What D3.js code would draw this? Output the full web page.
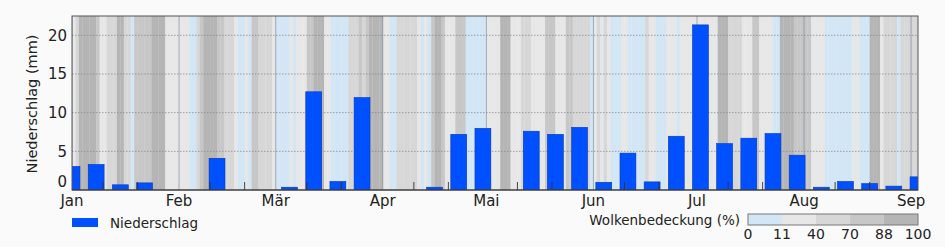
<!DOCTYPE html>
<html>
<head>
<meta charset="utf-8">
<script src="https://cdn.jsdelivr.net/npm/d3@7"></script>
<style>
  body { margin: 0; background: #fafafa; }
  svg { display: block; font-family: "DejaVu Sans", sans-serif; }
</style>
</head>
<body>
<div id="chart"></div>
<script>
// weekly precipitation (mm), bar centred on each date
const weekDates = ["2023-01-01","2023-01-08","2023-01-15","2023-01-22","2023-01-29",
  "2023-02-05","2023-02-12","2023-02-19","2023-02-26",
  "2023-03-05","2023-03-12","2023-03-19","2023-03-26",
  "2023-04-02","2023-04-09","2023-04-16","2023-04-23","2023-04-30",
  "2023-05-07","2023-05-14","2023-05-21","2023-05-28",
  "2023-06-04","2023-06-11","2023-06-18","2023-06-25",
  "2023-07-02","2023-07-09","2023-07-16","2023-07-23","2023-07-30",
  "2023-08-06","2023-08-13","2023-08-20","2023-08-27","2023-09-03"];
const precip = [3.05, 3.3, 0.67, 0.92, 0, 0, 4.1, 0, 0, 0.36, 12.7, 1.1, 11.95, 0, 0, 0.36,
  7.2, 7.97, 0, 7.6, 7.2, 8.1, 1.0, 4.77, 1.05, 6.95, 21.35, 6.0, 6.7, 7.3, 4.5, 0.36,
  1.1, 0.83, 0.5, 1.7];

// daily cloud cover (%) from 1 Jan
const cloud = [
  25,55,95,95,95,95,95,80,25,25,
  55,55,55,95,95,55,55,5,80,80,
  80,80,80,95,95,95,95,25,25,25,
  25,25,25,25,5,5,55,80,95,95,
  95,95,80,80,55,55,55,25,5,5,
  25,5,80,80,55,55,55,55,25,5,
  5,5,5,25,5,25,25,25,80,80,
  95,95,95,25,25,5,5,5,5,5,
  55,55,55,80,55,80,95,95,95,95,
  25,25,5,5,55,55,55,55,55,55,
  25,5,25,5,80,95,95,80,25,25,
  25,80,80,80,5,5,5,5,5,5,
  25,25,25,25,95,95,95,25,25,25,
  55,55,55,25,25,25,25,80,80,80,
  25,25,25,80,80,55,55,55,55,55,
  5,25,55,25,55,25,5,5,5,25,
  25,5,5,5,5,5,55,25,25,5,
  5,5,25,25,25,5,25,25,25,25,
  25,25,25,25,25,25,25,95,95,95,
  55,55,55,55,25,25,25,80,80,25,
  25,25,25,5,5,95,95,95,95,80,
  80,80,80,80,25,25,25,25,5,5,
  5,5,5,5,5,5,25,25,5,5,
  5,95,95,95,25,55,55,55,55,5,
  55,55,55,55,55];

const monthLabels = ["Jan","Feb","Mär","Apr","Mai","Jun","Jul","Aug","Sep"];
const yTicks = [0, 5, 10, 15, 20];
const cloudBreaks = [0, 11, 40, 70, 88, 100];
const cloudColors = ["#d2e6f5", "#e7e7e7", "#d7d7d7", "#c7c7c7", "#b5b5b5"];

const w = 945, h = 247;
const pLeft = 72, pRight = 918, pTop = 16, pBottom = 190;

const parse = d3.timeParse("%Y-%m-%d");
const start = parse("2023-01-01");
const end = parse("2023-09-03");

const x = d3.scaleTime().domain([start, end]).range([pLeft, pRight]);
const y = d3.scaleLinear().domain([0, 22.5]).range([pBottom, pTop]);
const cloudColor = d3.scaleThreshold().domain(cloudBreaks.slice(1, 5)).range(cloudColors);

const svg = d3.select("#chart").append("svg").attr("width", w).attr("height", h);

svg.append("defs").append("clipPath").attr("id", "clip")
  .append("rect").attr("x", pLeft).attr("y", pTop)
  .attr("width", pRight - pLeft).attr("height", pBottom - pTop);

const plot = svg.append("g").attr("clip-path", "url(#clip)");

// cloud cover stripes
plot.selectAll("rect.cloud")
  .data(cloud)
  .enter()
  .append("rect")
  .attr("class", "cloud")
  .attr("x", (d, i) => x(d3.timeDay.offset(start, i)))
  .attr("width", (d, i) => x(d3.timeDay.offset(start, i + 1)) - x(d3.timeDay.offset(start, i)) + 0.3)
  .attr("y", pTop)
  .attr("height", pBottom - pTop)
  .attr("fill", d => cloudColor(d));

// horizontal grid
plot.selectAll("line.grid")
  .data(yTicks.slice(1))
  .enter()
  .append("line")
  .attr("x1", pLeft).attr("x2", pRight)
  .attr("y1", d => y(d)).attr("y2", d => y(d))
  .attr("stroke", "#8a8a8a")
  .attr("stroke-width", 0.8)
  .attr("stroke-dasharray", "1.5,1.5");

// month lines
const months = d3.timeMonth.range(start, d3.timeDay.offset(end, 1));
plot.selectAll("line.month")
  .data(months)
  .enter()
  .append("line")
  .attr("x1", d => x(d)).attr("x2", d => x(d))
  .attr("y1", pTop).attr("y2", pBottom)
  .attr("stroke", "#6f8294")
  .attr("stroke-opacity", 0.6)
  .attr("stroke-width", 1);

// bars
const halfBar = 2.3 * 24 * 3600 * 1000;
plot.selectAll("rect.bar")
  .data(precip)
  .enter()
  .append("rect")
  .attr("class", "bar")
  .attr("x", (d, i) => x(new Date(+parse(weekDates[i]) - halfBar)))
  .attr("width", (d, i) => x(new Date(+parse(weekDates[i]) + halfBar)) - x(new Date(+parse(weekDates[i]) - halfBar)))
  .attr("y", d => y(d))
  .attr("height", d => y(0) - y(d))
  .attr("fill", "#0050ff")
  .attr("stroke", "#0038b8")
  .attr("stroke-width", 0.6);

// minor ticks on 10th and 20th
const minor = [];
months.forEach(m => { minor.push(d3.timeDay.offset(m, 9)); minor.push(d3.timeDay.offset(m, 19)); });
plot.selectAll("line.minor")
  .data(minor.filter(d => d < end))
  .enter()
  .append("line")
  .attr("x1", d => x(d)).attr("x2", d => x(d))
  .attr("y1", pBottom).attr("y2", pBottom - 8)
  .attr("stroke", "#333")
  .attr("stroke-width", 0.9);

// frame
svg.append("rect")
  .attr("x", pLeft).attr("y", pTop)
  .attr("width", pRight - pLeft).attr("height", pBottom - pTop)
  .attr("fill", "none")
  .attr("stroke", "#555")
  .attr("stroke-width", 1);
svg.append("line")
  .attr("x1", pLeft).attr("x2", pRight)
  .attr("y1", pBottom).attr("y2", pBottom)
  .attr("stroke", "#333").attr("stroke-width", 1.2);

// y axis labels
svg.selectAll("text.ytick")
  .data(yTicks)
  .enter()
  .append("text")
  .attr("x", pLeft - 5)
  .attr("y", d => d === 0 ? y(d) - 8 : y(d))
  .attr("dy", "0.36em")
  .attr("text-anchor", "end")
  .attr("font-size", 15)
  .attr("fill", "#222")
  .text(d => d);

svg.append("text")
  .attr("transform", "translate(37," + 104 + ") rotate(-90)")
  .attr("text-anchor", "middle")
  .attr("font-size", 14.5)
  .attr("fill", "#222")
  .text("Niederschlag (mm)");

// x axis labels
svg.selectAll("text.xtick")
  .data(months)
  .enter()
  .append("text")
  .attr("x", d => x(d))
  .attr("y", 206)
  .attr("text-anchor", "middle")
  .attr("font-size", 15)
  .attr("fill", "#222")
  .text((d, i) => monthLabels[i]);

// precipitation legend
svg.append("rect")
  .attr("x", 72).attr("y", 218).attr("width", 26).attr("height", 9)
  .attr("fill", "#0050ff");
svg.append("text")
  .attr("x", 110).attr("y", 227.5)
  .attr("font-size", 13.5)
  .attr("fill", "#222")
  .text("Niederschlag");

// cloud cover colour bar
const cb = d3.scaleLinear().domain([0, cloudColors.length]).range([748, 918]);
svg.append("text")
  .attr("x", 740).attr("y", 225)
  .attr("text-anchor", "end")
  .attr("font-size", 13.5)
  .attr("fill", "#222")
  .text("Wolkenbedeckung (%)");
svg.selectAll("rect.cb")
  .data(cloudColors)
  .enter()
  .append("rect")
  .attr("x", (d, i) => cb(i))
  .attr("width", (d, i) => cb(i + 1) - cb(i))
  .attr("y", 214).attr("height", 11)
  .attr("fill", d => d);
svg.append("rect")
  .attr("x", 748).attr("y", 214).attr("width", 170).attr("height", 11)
  .attr("fill", "none").attr("stroke", "#777").attr("stroke-width", 1);
svg.selectAll("text.cb")
  .data(cloudBreaks)
  .enter()
  .append("text")
  .attr("x", (d, i) => cb(i))
  .attr("y", 239)
  .attr("text-anchor", "middle")
  .attr("font-size", 14)
  .attr("fill", "#222")
  .text(d => d);
</script>
</body>
</html>
